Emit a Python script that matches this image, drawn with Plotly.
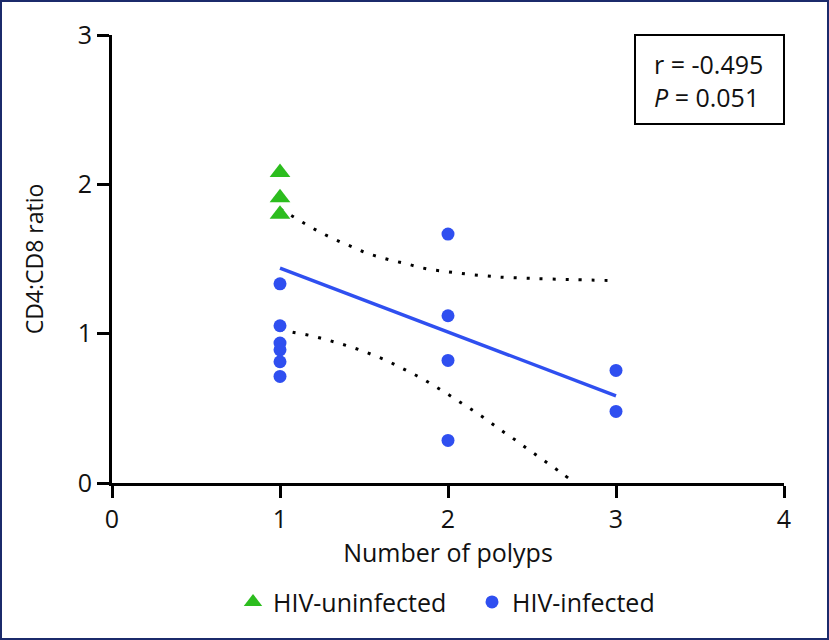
import plotly.graph_objects as go

# ---- data ----
uninf_x = [1, 1, 1]
uninf_y = [2.08, 1.91, 1.80]

inf_x = [1, 1, 1, 1, 1, 1, 2, 2, 2, 2, 3, 3]
inf_y = [1.334, 1.053, 0.937, 0.892, 0.812, 0.714, 1.667, 1.12, 0.821, 0.285, 0.754, 0.479]

fit_x = [1, 3]
fit_y = [1.439, 0.584]

ci_up_x = [1.0, 1.067, 1.137, 1.21, 1.28, 1.359, 1.432, 1.508, 1.587, 1.667, 1.746,
           1.825, 1.905, 1.988, 2.069, 2.149, 2.232, 2.307, 2.5, 2.75, 3.0]
ci_up_y = [1.835, 1.791, 1.744, 1.697, 1.656, 1.615, 1.580, 1.543, 1.515, 1.490, 1.470,
           1.446, 1.428, 1.416, 1.405, 1.394, 1.386, 1.379, 1.370, 1.362, 1.355]

ci_lo_x = [1.0, 1.071, 1.157, 1.240, 1.319, 1.399, 1.478, 1.554, 1.633, 1.706, 1.780,
           1.851, 1.923, 1.994, 2.065, 2.133, 2.202, 2.271, 2.337, 2.407, 2.474, 2.542,
           2.609, 2.679, 2.72]
ci_lo_y = [1.03, 1.011, 0.993, 0.971, 0.946, 0.919, 0.890, 0.857, 0.821, 0.780, 0.738,
           0.696, 0.647, 0.598, 0.546, 0.497, 0.446, 0.390, 0.337, 0.283, 0.228, 0.174,
           0.120, 0.064, 0.03]

x_ticks = [0, 1, 2, 3, 4]
y_ticks = [0, 1, 2, 3]
stats_text = "r = -0.495<br><i>P</i> = 0.051"

GREEN = "#2cbd1e"
BLUE = "#2f4ff0"
NAVY = "#1b2a6b"
FONT = "Open Sans"

fig = go.Figure()

for cx, cy in [(ci_up_x, ci_up_y), (ci_lo_x, ci_lo_y)]:
    fig.add_trace(go.Scatter(x=cx, y=cy, mode="lines", showlegend=False,
                             line=dict(color="black", width=3, dash="3px,10px", shape="spline"),
                             hoverinfo="skip"))

fig.add_trace(go.Scatter(x=fit_x, y=fit_y, mode="lines", showlegend=False,
                         line=dict(color=BLUE, width=3.5), hoverinfo="skip"))

fig.add_trace(go.Scatter(x=uninf_x, y=uninf_y, mode="markers", name="HIV-uninfected",
                         marker=dict(symbol="triangle-up", size=18, color=GREEN),
                         legend="legend", cliponaxis=False))
fig.add_trace(go.Scatter(x=inf_x, y=inf_y, mode="markers", name="HIV-infected",
                         marker=dict(symbol="circle", size=13, color=BLUE),
                         legend="legend2", cliponaxis=False))

L, R, T, B = 112, 45, 35, 157
PW, PH = 829 - L - R, 640 - T - B

axis_common = dict(showgrid=False, zeroline=False, showline=True, linecolor="black",
                   linewidth=3, ticks="outside", ticklen=12, tickwidth=3, tickcolor="black",
                   tickfont=dict(family=FONT, size=25, color="#111"))

fig.update_xaxes(range=[0, 4], tickvals=x_ticks, **axis_common,
                 title=dict(text="Number of polyps", font=dict(family=FONT, size=25, color="#111"),
                            standoff=11))
fig.update_yaxes(range=[0, 3], tickvals=y_ticks, **axis_common,
                 title=dict(text="CD4:CD8 ratio", font=dict(family=FONT, size=23, color="#111"),
                            standoff=28))

legend_common = dict(orientation="h", yanchor="middle", xanchor="left", y=-0.266,
                     font=dict(family=FONT, size=25, color="#111"),
                     bgcolor="rgba(0,0,0,0)", borderwidth=0)

fig.update_layout(
    width=829, height=640,
    margin=dict(l=L, r=R, t=T, b=B, autoexpand=False),
    paper_bgcolor="white", plot_bgcolor="white",
    legend=dict(x=(233 - L) / PW, **legend_common),
    legend2=dict(x=(472 - L) / PW, **legend_common),
    shapes=[
        dict(type="rect", xref="paper", yref="paper",
             x0=(635 - L) / PW, x1=1.0, y0=(483 - 124) / PH, y1=1.0,
             line=dict(color="black", width=2), fillcolor="rgba(0,0,0,0)"),
        dict(type="rect", xref="paper", yref="paper",
             x0=(-L + 1) / PW, x1=1 + (R - 1) / PW, y0=(-B + 1) / PH, y1=1 + (T - 1) / PH,
             line=dict(color=NAVY, width=2), fillcolor="rgba(0,0,0,0)"),
    ],
    annotations=[
        dict(text=stats_text, xref="paper", yref="paper", x=(652 - L) / PW,
             y=(483 - 80) / PH, xanchor="left", yanchor="middle", align="left",
             showarrow=False, font=dict(family=FONT, size=25, color="#111")),
    ],
)

fig.write_html("out.html", config={"displayModeBar": False},
               post_script="document.body.style.margin='0';document.body.style.overflow='hidden';")
